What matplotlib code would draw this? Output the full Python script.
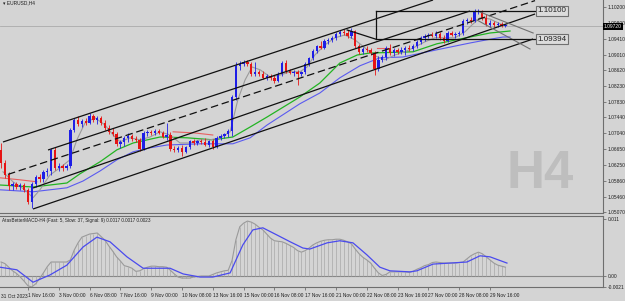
import matplotlib
matplotlib.use('Agg')
import matplotlib.pyplot as plt
import numpy as np

BG = '#D4D4D4'

# ---------------- data ----------------
bar_index = list(range(1, 133))
opens = [1.0663,1.0630,1.0600,1.0573,1.0578,1.0570,1.0575,1.0563,1.0533,1.0578,
         1.0595,1.0590,1.0608,1.0610,1.0663,1.0618,1.0623,1.0618,1.0623,1.0713,
         1.0738,1.0728,1.0735,1.0730,1.0748,1.0738,1.0743,1.0730,1.0718,1.0708,
         1.0703,1.0678,1.0683,1.0693,1.0698,1.0690,1.0688,1.0665,1.0705,1.0708,
         1.0705,1.0710,1.0705,1.0695,1.0700,1.0665,1.0663,1.0668,1.0658,1.0670,
         1.0685,1.0680,1.0685,1.0683,1.0675,1.0685,1.0670,1.0693,1.0698,1.0703,
         1.0710,1.0795,1.0873,1.0878,1.0883,1.0878,1.0853,1.0858,1.0853,1.0843,
         1.0848,1.0843,1.0835,1.0853,1.0880,1.0860,1.0855,1.0858,1.0853,1.0858,
         1.0878,1.0893,1.0910,1.0923,1.0918,1.0935,1.0938,1.0943,1.0953,1.0958,
         1.0955,1.0948,1.0960,1.0923,1.0908,1.0915,1.0913,1.0905,1.0865,1.0888,
         1.0895,1.0918,1.0905,1.0913,1.0908,1.0913,1.0918,1.0915,1.0923,1.0933,
         1.0943,1.0948,1.0950,1.0948,1.0953,1.0943,1.0935,1.0955,1.0950,1.0953,
         1.0955,1.0985,1.0988,1.0985,1.1008,1.1010,1.0993,1.0975,1.0980,1.0975,
         1.0978,1.0973]
highs = [1.0680,1.0638,1.0608,1.0583,1.0583,1.0580,1.0580,1.0568,1.0583,1.0600,
         1.0603,1.0613,1.0618,1.0668,1.0670,1.0630,1.0628,1.0628,1.0718,1.0743,
         1.0748,1.0740,1.0743,1.0755,1.0753,1.0748,1.0748,1.0738,1.0725,1.0718,
         1.0708,1.0688,1.0698,1.0705,1.0703,1.0698,1.0693,1.0710,1.0713,1.0713,
         1.0715,1.0715,1.0710,1.0730,1.0708,1.0673,1.0673,1.0675,1.0673,1.0688,
         1.0690,1.0688,1.0690,1.0693,1.0688,1.0690,1.0698,1.0703,1.0705,1.0715,
         1.0800,1.0883,1.0885,1.0888,1.0888,1.0883,1.0883,1.0863,1.0860,1.0853,
         1.0853,1.0850,1.0858,1.0885,1.0888,1.0865,1.0863,1.0863,1.0860,1.0883,
         1.0895,1.0915,1.0925,1.0935,1.0940,1.0943,1.0948,1.0958,1.0963,1.0965,
         1.0963,1.0968,1.0963,1.0928,1.0920,1.0923,1.0918,1.0910,1.0898,1.0900,
         1.0923,1.0928,1.0918,1.0918,1.0920,1.0923,1.0925,1.0928,1.0938,1.0948,
         1.0953,1.0955,1.0958,1.0960,1.0958,1.0950,1.0960,1.0960,1.0958,1.0960,
         1.0990,1.0993,1.0995,1.1015,1.1015,1.1013,1.1003,1.0988,1.0985,1.0983,
         1.0983,1.0978]
lows = [1.0618,1.0593,1.0563,1.0563,1.0565,1.0563,1.0558,1.0528,1.0518,1.0570,
        1.0583,1.0583,1.0598,1.0600,1.0613,1.0610,1.0610,1.0613,1.0618,1.0708,
        1.0723,1.0720,1.0725,1.0728,1.0733,1.0728,1.0725,1.0713,1.0703,1.0698,
        1.0673,1.0668,1.0673,1.0683,1.0685,1.0683,1.0660,1.0663,1.0698,1.0700,
        1.0700,1.0703,1.0693,1.0688,1.0660,1.0658,1.0658,1.0648,1.0655,1.0665,
        1.0675,1.0675,1.0678,1.0673,1.0670,1.0665,1.0668,1.0688,1.0693,1.0695,
        1.0698,1.0788,1.0863,1.0873,1.0873,1.0848,1.0848,1.0848,1.0840,1.0838,
        1.0838,1.0830,1.0833,1.0848,1.0855,1.0853,1.0848,1.0825,1.0848,1.0853,
        1.0873,1.0888,1.0905,1.0915,1.0915,1.0928,1.0933,1.0938,1.0948,1.0950,
        1.0943,1.0943,1.0918,1.0903,1.0903,1.0908,1.0900,1.0850,1.0860,1.0883,
        1.0888,1.0900,1.0898,1.0903,1.0903,1.0900,1.0910,1.0910,1.0918,1.0928,
        1.0935,1.0943,1.0945,1.0943,1.0938,1.0930,1.0933,1.0948,1.0943,1.0948,
        1.0950,1.0978,1.0980,1.0983,1.1003,1.0988,1.0973,1.0970,1.0970,1.0970,
        1.0970,1.0970]
closes = [1.0630,1.0600,1.0573,1.0578,1.0570,1.0575,1.0563,1.0533,1.0578,1.0595,
          1.0590,1.0608,1.0610,1.0663,1.0618,1.0623,1.0618,1.0623,1.0713,1.0738,
          1.0728,1.0735,1.0730,1.0748,1.0738,1.0743,1.0730,1.0718,1.0708,1.0703,
          1.0678,1.0683,1.0693,1.0698,1.0690,1.0688,1.0665,1.0705,1.0708,1.0705,
          1.0710,1.0705,1.0695,1.0700,1.0665,1.0663,1.0668,1.0658,1.0670,1.0685,
          1.0680,1.0685,1.0683,1.0675,1.0685,1.0670,1.0693,1.0698,1.0703,1.0710,
          1.0795,1.0873,1.0878,1.0883,1.0878,1.0853,1.0858,1.0853,1.0843,1.0848,
          1.0843,1.0835,1.0853,1.0880,1.0860,1.0855,1.0858,1.0853,1.0858,1.0878,
          1.0893,1.0910,1.0923,1.0918,1.0935,1.0938,1.0943,1.0953,1.0958,1.0955,
          1.0948,1.0960,1.0923,1.0908,1.0915,1.0913,1.0905,1.0865,1.0888,1.0895,
          1.0918,1.0905,1.0913,1.0908,1.0913,1.0918,1.0915,1.0923,1.0933,1.0943,
          1.0948,1.0950,1.0948,1.0953,1.0943,1.0935,1.0955,1.0950,1.0953,1.0955,
          1.0985,1.0988,1.0985,1.1008,1.1010,1.0993,1.0975,1.0980,1.0975,1.0978,
          1.0973,1.0975]

# moving averages (bar index, price)
ma_gray_k = [1.5,4.1,7.2,9.3,11.1,13.7,16.3,18.9,20.7,22.8,25.4,28.0,30.1,31.9,34.5,37.1,39.7,42.3,44.9,47.5,
             50.1,52.7,55.3,57.9,60.5,62.5,64.4,66.2,68.3,70.9,73.5,76.1,78.6,80.5,82.5,85.1,87.7,90.3,92.9,95.5,
             98.1,100.7,103.3,105.9,108.5,111.1,113.7,116.3,118.9,121.5,123.3,125.4,128.0,130.6,132.4]
ma_gray_p = [1.0608,1.0583,1.0563,1.0543,1.0563,1.0600,1.0618,1.0638,1.0688,1.0730,1.0743,1.0725,1.0700,1.0683,1.0693,1.0688,1.0695,1.0708,1.0700,1.0680,
             1.0680,1.0688,1.0688,1.0693,1.0708,1.0788,1.0838,1.0870,1.0863,1.0845,1.0850,1.0858,1.0858,1.0870,1.0900,1.0925,1.0943,1.0950,1.0938,1.0918,
             1.0898,1.0888,1.0900,1.0908,1.0920,1.0933,1.0943,1.0943,1.0943,1.0958,1.0975,1.0993,1.0990,1.0978,1.0973]
ma_green_k = [0.7,9.3,18.1,21.5,26.7,31.1,35.3,42.3,49.3,56.0,61.2,65.7,70.1,78.6,83.8,89.0,93.5,96.8,108.0,114.2,122.8,128.0,133.2]
ma_green_p = [1.0575,1.0570,1.0580,1.0603,1.0633,1.0663,1.0680,1.0695,1.0693,1.0688,1.0695,1.0720,1.0745,1.0795,1.0830,1.0880,1.0900,1.0905,1.0908,1.0928,1.0945,1.0955,1.0960]
ma_blue_k = [0.7,9.3,18.1,22.3,26.7,31.1,35.3,39.7,44.1,52.7,61.2,65.7,70.1,78.6,83.8,89.0,94.2,99.4,105.4,114.2,122.8,127.2,131.4,133.2]
ma_blue_p = [1.0563,1.0558,1.0568,1.0585,1.0610,1.0638,1.0658,1.0668,1.0675,1.0678,1.0678,1.0693,1.0725,1.0778,1.0805,1.0843,1.0873,1.0893,1.0895,1.0913,1.0930,1.0938,1.0945,1.0945]
ma_red_segments = [
    ([0.7, 5.9, 10.3], [1.0593, 1.0588, 1.0583]),
    ([45.7, 51.4, 56.0], [1.0708, 1.0705, 1.0700]),
    ([98.6, 101.5], [1.0918, 1.0918]),
]

# MACD histogram / main line (per bar) and signal (read points)
macd = [0.0027,0.0024,0.0017,0.0010,0.0005,-0.0002,-0.0010,-0.0019,-0.0021,-0.0015,
        -0.0005,0.0006,0.0018,0.0027,0.0027,0.0027,0.0027,0.0027,0.0031,0.0050,
        0.0064,0.0075,0.0078,0.0081,0.0082,0.0083,0.0076,0.0069,0.0058,0.0048,
        0.0037,0.0029,0.0020,0.0018,0.0015,0.0009,0.0010,0.0014,0.0017,0.0019,
        0.0019,0.0018,0.0018,0.0017,0.0011,0.0004,-0.0002,-0.0004,-0.0004,-0.0004,
        -0.0002,-0.0001,0.0000,0.0000,0.0000,0.0003,0.0006,0.0008,0.0010,0.0011,
        0.0030,0.0070,0.0095,0.0102,0.0106,0.0104,0.0100,0.0094,0.0089,0.0081,
        0.0073,0.0068,0.0067,0.0066,0.0063,0.0059,0.0055,0.0049,0.0046,0.0049,
        0.0054,0.0060,0.0064,0.0067,0.0069,0.0070,0.0070,0.0071,0.0071,0.0069,
        0.0066,0.0062,0.0052,0.0043,0.0036,0.0031,0.0025,0.0015,0.0006,0.0001,
        0.0003,0.0008,0.0008,0.0008,0.0008,0.0008,0.0007,0.0009,0.0013,0.0016,
        0.0020,0.0022,0.0026,0.0027,0.0026,0.0025,0.0025,0.0025,0.0025,0.0026,
        0.0027,0.0033,0.0039,0.0043,0.0046,0.0043,0.0037,0.0031,0.0025,0.0021,
        0.0019,0.0017]
signal_k = [0.7,5.1,9.3,13.7,18.1,22.3,25.9,29.3,33.7,37.9,42.3,44.9,48.3,52.7,56.0,60.5,63.8,66.4,69.0,72.7,
            76.1,79.4,81.2,85.7,89.0,92.4,96.0,99.4,102.0,107.2,109.0,113.2,117.6,122.0,125.4,128.0,132.4]
signal_v = [0.0017,0.0012,-0.0012,0.0002,0.0021,0.0056,0.0075,0.0066,0.0037,0.0015,0.0015,0.0015,0.0004,-0.0002,-0.0002,0.0006,0.0060,0.0089,0.0093,0.0079,
            0.0066,0.0054,0.0052,0.0064,0.0068,0.0064,0.0041,0.0017,0.0010,0.0008,0.0010,0.0023,0.0025,0.0027,0.0039,0.0037,0.0025]

# drawn objects: (k0, p0, k1, p1)
channel_solid = [(1.5, 1.06825, 113.2, 1.10375),
                 (13.2, 1.06625, 122.8, 1.10100),
                 (9.3, 1.05675, 139.7, 1.10025),
                 (9.3, 1.05150, 139.2, 1.09400)]
channel_dashed = [(2.8, 1.06015, 139.7, 1.10360)]
fan_gray = [(125.4, 1.10075, 139.2, 1.09550),
            (124.6, 1.09875, 138.4, 1.09150)]
black_segments = [(90.9, 1.09625, 98.4, 1.09394),
                  (98.4, 1.10100, 98.4, 1.09394),
                  (98.4, 1.10100, 139.7, 1.10100),
                  (98.4, 1.09394, 139.7, 1.09394)]
level_labels = [('1.10100', 1.10100), ('1.09394', 1.09394)]
current_price = 1.09720

price_ticks = [1.10200,1.09800,1.09410,1.09010,1.08620,1.08230,1.07830,1.07440,
               1.07040,1.06650,1.06250,1.05860,1.05460,1.05070]
time_tick_k = [8,16,24,32,40,48,56,64,72,80,88,96,104,112,120,128]
time_tick_lbl = ['1 Nov 16:00','3 Nov 00:00','6 Nov 08:00','7 Nov 16:00','9 Nov 00:00',
                 '10 Nov 08:00','13 Nov 16:00','15 Nov 00:00','16 Nov 08:00','17 Nov 16:00',
                 '21 Nov 00:00','22 Nov 08:00','23 Nov 16:00','27 Nov 00:00','28 Nov 08:00',
                 '29 Nov 16:00']

# ---------------- figure ----------------
plt.rcParams['font.family'] = ['Liberation Sans', 'DejaVu Sans']
W, H = 625, 301
fig = plt.figure(figsize=(W/100, H/100), dpi=100, facecolor=BG)
axw = 603 / W
ax = fig.add_axes([0, 1 - 213/H, axw, 213/H], facecolor=BG)
axm = fig.add_axes([0, 1 - 287/H, axw, 71/H], facecolor=BG, sharex=ax)

XL = (0.727, 157.35)
ax.set_xlim(*XL)
ax.set_ylim(1.05050, 1.10375)
axm.set_ylim(-0.00212, 0.01158)

SP = '#6E6E6E'
TXT = '#202020'
FS = 3.5
for a in (ax, axm):
    for s in a.spines.values():
        s.set_color(SP)
        s.set_linewidth(0.8)
    a.spines['left'].set_visible(False)
ax.spines['top'].set_visible(False)

# watermark
ax.text(0.895, 0.185, 'H4', transform=ax.transAxes, fontsize=38, fontweight='bold',
        color='#BEBEBE', family='Liberation Sans', ha='center', va='center', zorder=0)

# current price line
ax.axhline(current_price, color='#ABABAB', lw=0.6, zorder=1)

# moving averages
ax.plot(ma_blue_k, ma_blue_p, color='#5A5AF0', lw=0.8, zorder=2)
ax.plot(ma_green_k, ma_green_p, color='#22B422', lw=0.9, zorder=2)
for kk, pp in ma_red_segments:
    ax.plot(kk, pp, color='#E86060', lw=0.8, zorder=2)
ax.plot(ma_gray_k, ma_gray_p, color='#9A9A9A', lw=0.8, zorder=2)

# candles
bi = np.array(bar_index)
o = np.array(opens); h = np.array(highs); l = np.array(lows); c = np.array(closes)
up = c >= o
cols = np.where(up, '#1E1EE6', '#E61414')
ax.vlines(bi, l, h, colors=cols, lw=0.6, zorder=3)
body = np.maximum(np.abs(c - o), 0.00006)
ax.bar(bi, body, bottom=np.minimum(o, c), width=0.62, color=cols, linewidth=0, zorder=4)

# channel lines
for k0, p0, k1, p1 in channel_solid:
    ax.plot([k0, k1], [p0, p1], color='#101010', lw=0.9, zorder=5, solid_capstyle='butt')
for k0, p0, k1, p1 in channel_dashed:
    ax.plot([k0, k1], [p0, p1], color='#101010', lw=0.9, ls=(0, (6, 3)), zorder=5)
for k0, p0, k1, p1 in fan_gray:
    ax.plot([k0, k1], [p0, p1], color='#707070', lw=0.8, zorder=5)
for k0, p0, k1, p1 in black_segments:
    ax.plot([k0, k1], [p0, p1], color='#101010', lw=0.9, zorder=5)
for txt, lvl in level_labels:
    ax.text(140.3, lvl, txt, fontsize=5.8, color=TXT, va='center', ha='left', zorder=6,
            bbox=dict(boxstyle='square,pad=0.18', fc='#DCDCDC', ec='#707070', lw=0.8))

# price axis
ax.yaxis.tick_right()
ax.set_yticks(price_ticks)
ax.set_yticklabels(['%.5f' % v for v in price_ticks])
ax.tick_params(axis='y', labelsize=FS, length=2, width=0.6, color=SP, pad=1.2, labelcolor=TXT)
ax.tick_params(axis='x', bottom=False, labelbottom=False)
ax.text(1.0015, current_price, '%.5f' % current_price, transform=ax.get_yaxis_transform(),
        fontsize=FS, color='white', va='center', ha='left', zorder=10, clip_on=False,
        bbox=dict(boxstyle='square,pad=0.2', fc='black', ec='black', lw=0))
ax.text(0.005, 0.997, '\u25be EURUSD,H4', transform=ax.transAxes, fontsize=FS,
        color=TXT, va='top', ha='left')

# MACD panel
axm.vlines(bi, 0, macd, colors='#A8A8A8', lw=0.5, zorder=2)
axm.axhline(0, color='#888888', lw=0.8, zorder=1)
axm.plot(bi, macd, color='#9A9A9A', lw=0.8, zorder=3)
axm.plot(signal_k, signal_v, color='#4A4AEE', lw=0.9, zorder=4)
axm.yaxis.tick_right()
axm.set_yticks([0.011, 0.0, -0.00212])
axm.set_yticklabels(['0.011', '0.00', '-0.0021'])
axm.tick_params(axis='y', labelsize=FS, length=2, width=0.6, color=SP, pad=1.2, labelcolor=TXT)
axm.text(0.003, 0.97, 'AtasBetterMACD-H4 (Fast: 5, Slow: 37, Signal: 9) 0.0017 0.0017 0.0023',
         transform=axm.transAxes, fontsize=3.3, color=TXT, va='top', ha='left')

axm.set_xticks(time_tick_k)
axm.set_xticklabels(time_tick_lbl)
axm.tick_params(axis='x', labelsize=FS, length=2, width=0.6, color=SP, pad=2.5, labelcolor=TXT)
for lb in axm.get_xticklabels():
    lb.set_ha('left')
axm.text(0.0015, -0.095, '31 Oct 2023', transform=axm.transAxes, fontsize=FS,
         color=TXT, va='top', ha='left')

fig.savefig('out.png', dpi=100, facecolor=BG)
